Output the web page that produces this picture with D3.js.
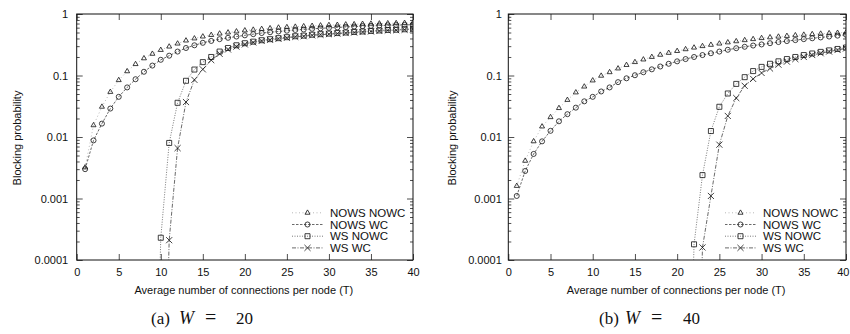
<!DOCTYPE html>
<html>
<head>
<meta charset="utf-8">
<script src="https://cdn.jsdelivr.net/npm/d3@7"></script>
<style>
    body { margin: 0; background: #fff; }
    text { font-family: "Liberation Sans", Arial, sans-serif; }
    text.caption { font-family: "Liberation Serif", "DejaVu Serif", serif; }
</style>
</head>
<body>
<svg id="chart" width="850" height="334"></svg>
<script>

var T = [1, 2, 3, 4, 5, 6, 7, 8, 9, 10, 11, 12, 13, 14, 15, 16, 17, 18, 19, 20,
         21, 22, 23, 24, 25, 26, 27, 28, 29, 30, 31, 32, 33, 34, 35, 36, 37, 38, 39, 40];

var seriesNames = ['NOWS NOWC', 'NOWS WC', 'WS NOWC', 'WS WC'];

// W = 20
var w20NowsNowc = [0.0032, 0.0155, 0.031, 0.054, 0.084, 0.117, 0.153, 0.19, 0.225, 0.26,
                   0.295, 0.33, 0.37, 0.40, 0.43, 0.455, 0.48, 0.50, 0.52, 0.54,
                   0.555, 0.57, 0.585, 0.60, 0.61, 0.62, 0.63, 0.64, 0.65, 0.66,
                   0.665, 0.675, 0.68, 0.69, 0.695, 0.70, 0.705, 0.71, 0.715, 0.72];
var w20NowsWc   = [0.003, 0.0088, 0.0165, 0.029, 0.045, 0.064, 0.087, 0.115, 0.145, 0.18,
                   0.21, 0.245, 0.28, 0.31, 0.34, 0.365, 0.39, 0.41, 0.43, 0.45,
                   0.47, 0.49, 0.505, 0.52, 0.535, 0.55, 0.56, 0.575, 0.585, 0.595,
                   0.605, 0.615, 0.625, 0.635, 0.64, 0.65, 0.655, 0.66, 0.665, 0.67];
var w20WsNowc   = [null, null, null, null, null, null, null, null, 1e-9, 0.00023,
                   0.008, 0.036, 0.082, 0.125, 0.165, 0.20, 0.245, 0.28, 0.31, 0.335,
                   0.355, 0.375, 0.39, 0.405, 0.42, 0.435, 0.445, 0.46, 0.47, 0.48,
                   0.49, 0.50, 0.51, 0.52, 0.53, 0.54, 0.55, 0.555, 0.565, 0.575];
var w20WsWc     = [null, null, null, null, null, null, null, null, null, 1e-9,
                   0.00021, 0.0066, 0.037, 0.085, 0.126, 0.178, 0.225, 0.265, 0.295, 0.32,
                   0.345, 0.365, 0.38, 0.395, 0.41, 0.425, 0.435, 0.45, 0.46, 0.47,
                   0.48, 0.49, 0.50, 0.51, 0.52, 0.53, 0.54, 0.545, 0.555, 0.565];

// W = 40
var w40NowsNowc = [0.0016, 0.0041, 0.0085, 0.0148, 0.021, 0.0295, 0.040, 0.053, 0.066, 0.083,
                   0.099, 0.113, 0.13, 0.148, 0.165, 0.182, 0.2, 0.217, 0.233, 0.25,
                   0.267, 0.284, 0.3, 0.315, 0.33, 0.345, 0.36, 0.375, 0.39, 0.405,
                   0.417, 0.428, 0.439, 0.45, 0.46, 0.47, 0.478, 0.486, 0.493, 0.50];
var w40NowsWc   = [0.0011, 0.0028, 0.0053, 0.0085, 0.0126, 0.018, 0.0235, 0.030, 0.038, 0.045,
                   0.055, 0.064, 0.078, 0.09, 0.101, 0.113, 0.126, 0.14, 0.155, 0.17,
                   0.185, 0.2, 0.215, 0.23, 0.245, 0.262, 0.278, 0.293, 0.307, 0.32,
                   0.335, 0.35, 0.363, 0.376, 0.39, 0.403, 0.416, 0.43, 0.445, 0.46];
var w40WsNowc   = [null, null, null, null, null, null, null, null, null, null,
                   null, null, null, null, null, null, null, null, null, null,
                   1e-9, 0.00018, 0.0024, 0.0125, 0.031, 0.051, 0.073, 0.094, 0.118, 0.138,
                   0.155, 0.17, 0.185, 0.2, 0.215, 0.228, 0.242, 0.256, 0.27, 0.285];
var w40WsWc     = [null, null, null, null, null, null, null, null, null, null,
                   null, null, null, null, null, null, null, null, null, null,
                   null, 1e-9, 0.00016, 0.0011, 0.0075, 0.022, 0.043, 0.068, 0.088, 0.11,
                   0.13, 0.15, 0.168, 0.185, 0.2, 0.215, 0.23, 0.245, 0.26, 0.275];

var xTicks = [0, 5, 10, 15, 20, 25, 30, 35, 40];
var yTicks = [0.0001, 0.001, 0.01, 0.1, 1];
var yTickLabels = ['0.0001', '0.001', '0.01', '0.1', '1'];

var top_ = 14, bottom_ = 260;

var styles = [
    {symbol: d3.symbolTriangle2, size: 18, dash: '1,2.5', stroke: '#999', width: 0.7},
    {symbol: d3.symbolCircle,    size: 20, dash: '2.5,1.5', stroke: '#444', width: 0.8},
    {symbol: d3.symbolSquare2,   size: 32, dash: '1,1.5', stroke: '#555', width: 0.8},
    {symbol: d3.symbolTimes,     size: 26, dash: '4,1.5,1,1.5', stroke: '#444', width: 0.8}
];

var svg = d3.select('#chart');

function panel(o) {
    var g = svg.append('g');
    var x = d3.scaleLinear().domain([0, 40]).range([o.left, o.right]);
    var y = d3.scaleLog().domain([1e-4, 1]).range([bottom_, top_]);

    var minor = y.ticks().filter(function(v) { return yTicks.indexOf(v) < 0; });

    // clip to the plot frame
    g.append('clipPath').attr('id', 'clip' + o.id)
        .append('rect')
        .attr('x', o.left).attr('y', top_)
        .attr('width', o.right - o.left).attr('height', bottom_ - top_);

    var fmt = function(v) { return yTickLabels[yTicks.indexOf(v)]; };

    var xb = g.append('g').attr('class', 'axis')
        .attr('transform', 'translate(0,' + bottom_ + ')')
        .call(d3.axisBottom(x).tickValues(xTicks).tickSize(-6).tickPadding(8));
    g.append('g').attr('class', 'axis')
        .attr('transform', 'translate(0,' + top_ + ')')
        .call(d3.axisTop(x).tickValues(xTicks).tickSize(-6).tickFormat(''));
    g.append('g').attr('class', 'axis')
        .attr('transform', 'translate(' + o.left + ',0)')
        .call(d3.axisLeft(y).tickValues(yTicks).tickSize(-6).tickPadding(o.pad).tickFormat(fmt));
    g.append('g').attr('class', 'axis')
        .attr('transform', 'translate(' + o.left + ',0)')
        .call(d3.axisLeft(y).tickValues(minor).tickSize(-3).tickFormat(''));
    g.append('g').attr('class', 'axis')
        .attr('transform', 'translate(' + o.right + ',0)')
        .call(d3.axisRight(y).tickValues(yTicks).tickSize(-6).tickFormat(''));
    g.append('g').attr('class', 'axis')
        .attr('transform', 'translate(' + o.right + ',0)')
        .call(d3.axisRight(y).tickValues(minor).tickSize(-3).tickFormat(''));

    g.selectAll('.axis .domain').remove();
    g.selectAll('.axis text').attr('font-size', 11).attr('fill', '#111')
        .attr('font-family', '"Liberation Sans", Arial, sans-serif');
    g.selectAll('.axis line').attr('stroke', '#222').attr('stroke-width', 0.8);

    // last x label sits on the page edge: keep it inside
    if (o.right > 840) {
        xb.selectAll('.tick').filter(function(d) { return d === 40; })
            .select('text').attr('text-anchor', 'end').attr('x', 849 - o.right);
    }

    g.append('rect')
        .attr('x', o.left).attr('y', top_)
        .attr('width', o.right - o.left).attr('height', bottom_ - top_)
        .attr('fill', 'none').attr('stroke', '#111').attr('stroke-width', 1);

    var plot = g.append('g').attr('clip-path', 'url(#clip' + o.id + ')');

    o.series.forEach(function(vals, k) {
        var st = styles[k];
        var pts = vals.map(function(v, i) { return {t: T[i], v: v}; })
            .filter(function(d) { return d.v !== null; });

        plot.append('path')
            .datum(pts)
            .attr('fill', 'none')
            .attr('stroke', st.stroke)
            .attr('stroke-width', st.width)
            .attr('stroke-dasharray', st.dash)
            .attr('d', d3.line()
                .x(function(d) { return x(d.t); })
                .y(function(d) { return y(d.v); }));

        plot.selectAll('.pt' + k)
            .data(pts.filter(function(d) { return d.v >= 1e-4; }))
            .enter().append('path')
            .attr('transform', function(d) { return 'translate(' + x(d.t) + ',' + y(d.v) + ')'; })
            .attr('d', d3.symbol().type(st.symbol).size(st.size))
            .attr('fill', 'none')
            .attr('stroke', '#111')
            .attr('stroke-width', 0.8);
    });

    // legend
    var leg = g.append('g');
    seriesNames.forEach(function(name, k) {
        var st = styles[k];
        var ly = 212.8 + k * 11.7;
        leg.append('line')
            .attr('x1', o.legX).attr('x2', o.legX + 31)
            .attr('y1', ly).attr('y2', ly)
            .attr('stroke', st.stroke)
            .attr('stroke-width', st.width)
            .attr('stroke-dasharray', st.dash);
        leg.append('path')
            .attr('transform', 'translate(' + (o.legX + 15.5) + ',' + ly + ')')
            .attr('d', d3.symbol().type(st.symbol).size(st.size))
            .attr('fill', 'none').attr('stroke', '#111').attr('stroke-width', 0.8);
        leg.append('text')
            .attr('x', o.legX + 38).attr('y', ly + 4.2)
            .attr('font-size', 11.5).attr('fill', '#111')
            .text(name);
    });

    // axis titles
    g.append('text')
        .attr('x', (o.left + o.right) / 2 - 1).attr('y', 294)
        .attr('text-anchor', 'middle').attr('font-size', 11).attr('fill', '#111')
        .text('Average number of connections per node (T)');
    g.append('text')
        .attr('transform', 'translate(' + o.ylabX + ',' + 138 + ') rotate(-90)')
        .attr('text-anchor', 'middle').attr('font-size', 11).attr('fill', '#111')
        .text('Blocking probability');

    // caption
    var cap = g.append('text').attr('class', 'caption')
        .attr('y', 324).attr('font-size', 17).attr('fill', '#111');
    cap.append('tspan').attr('x', o.cap[0]).text(o.letter);
    cap.append('tspan').attr('x', o.cap[1]).attr('font-style', 'italic').attr('font-size', 18).text('W');
    cap.append('tspan').attr('x', o.cap[2]).attr('font-size', 20).text('=');
    cap.append('tspan').attr('x', o.cap[3]).text(o.w);
}

panel({id: 'a', left: 76.7, right: 413, pad: 8.5, legX: 292, ylabX: 21,
       series: [w20NowsNowc, w20NowsWc, w20WsNowc, w20WsWc],
       letter: '(a)', w: '20', cap: [151, 179, 205, 236]});
panel({id: 'b', left: 508.3, right: 846, pad: 6.5, legX: 725, ylabX: 456,
       series: [w40NowsNowc, w40NowsWc, w40WsNowc, w40WsWc],
       letter: '(b)', w: '40', cap: [599, 625, 651, 683]});

</script>
</body>
</html>
